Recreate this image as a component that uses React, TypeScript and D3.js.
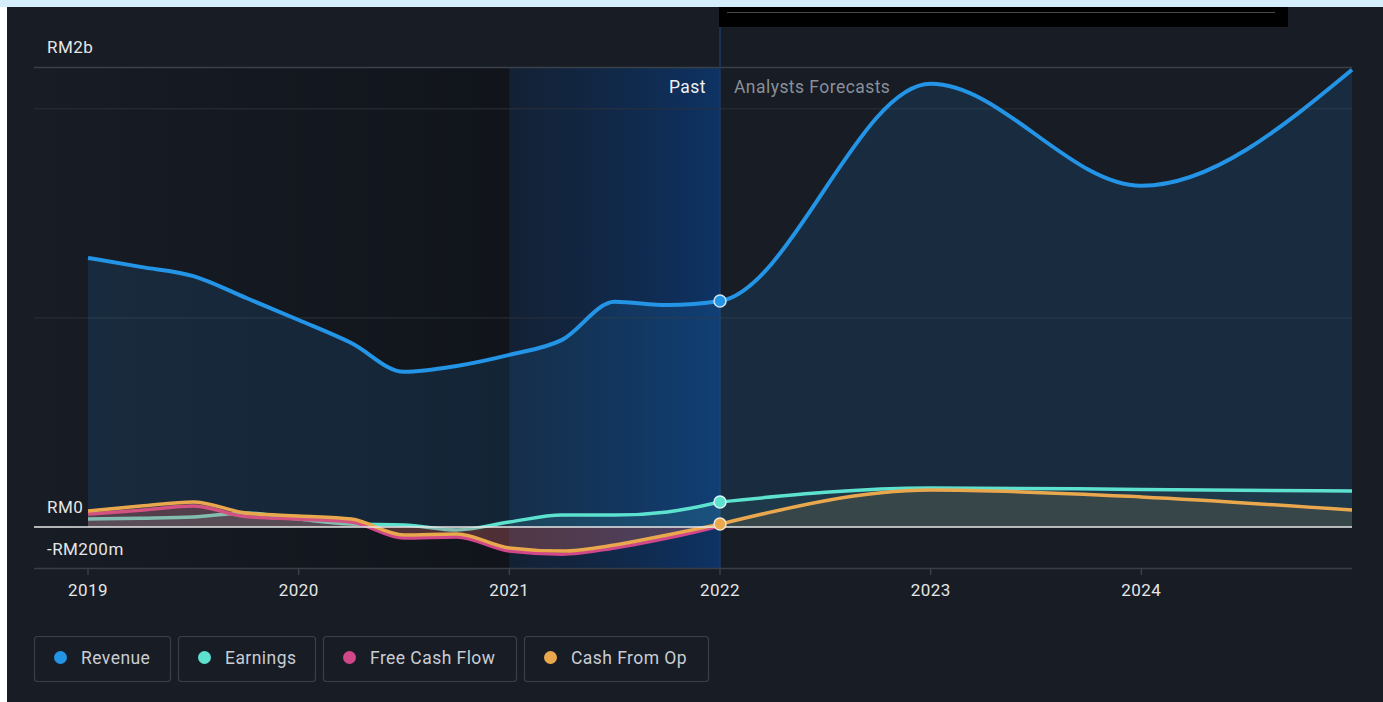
import React from "react";
import * as d3 from "d3";

const years = [2019, 2020, 2021, 2022, 2023, 2024];
const legendItems = ["Revenue", "Earnings", "Free Cash Flow", "Cash From Op"];

const pastT = [2019, 2019.25, 2019.5, 2019.75, 2020, 2020.25, 2020.5, 2020.75, 2021, 2021.25, 2021.5, 2021.75, 2022];
const revenuePast = [1.287, 1.244, 1.2, 1.096, 0.99, 0.88, 0.742, 0.77, 0.823, 0.895, 1.077, 1.062, 1.081];
const earningsPast = [0.038, 0.042, 0.048, 0.067, 0.038, 0.014, 0.01, -0.014, 0.024, 0.057, 0.057, 0.072, 0.12];
const fcfPast = [0.062, 0.08, 0.1, 0.05, 0.038, 0.024, -0.053, -0.048, -0.115, -0.13, -0.1, -0.053, 0.005];
const cfoPast = [0.077, 0.1, 0.12, 0.067, 0.053, 0.038, -0.038, -0.033, -0.1, -0.115, -0.086, -0.038, 0.014];

const foreT = [2022, 2023, 2024, 2025];
const revenueFore = [1.081, 2.12, 1.632, 2.187];
const earningsFore = [0.12, 0.187, 0.18, 0.172];
const cfoFore = [0.014, 0.177, 0.144, 0.081];

const colors = {
  revenue: "#2394e6",
  earnings: "#5de2cf",
  fcf: "#d0478a",
  cfo: "#eaa84e",
};

type P = [number, number];
const zip = (t: number[], v: number[]): P[] => t.map((d, i) => [d, v[i]]);

export default function App() {
  const W = 1383;
  const H = 702;
  const left = 34;
  const right = 1352;
  const x = d3.scaleLinear().domain([2019, 2025]).range([88, 1352]);
  const y = d3.scaleLinear().domain([-0.196, 2.2]).range([568, 67]);
  const y0 = y(0);

  const line = d3
    .line<P>()
    .x((d) => x(d[0]))
    .y((d) => y(d[1]))
    .curve(d3.curveMonotoneX);
  const area = d3
    .area<P>()
    .x((d) => x(d[0]))
    .y0(y0)
    .y1((d) => y(d[1]))
    .curve(d3.curveMonotoneX);

  const rev = zip(pastT, revenuePast).concat(zip(foreT, revenueFore).slice(1));
  const earnP = zip(pastT, earningsPast);
  const earnF = zip(foreT, earningsFore);
  const fcf = zip(pastT, fcfPast);
  const cfoP = zip(pastT, cfoPast);
  const cfoF = zip(foreT, cfoFore);

  const xNow = x(2022);
  const xPastStart = x(2021);

  const legendX = [34, 178, 323, 524];
  const legendW = [136, 137, 193, 184];
  const legendColors = [colors.revenue, colors.earnings, colors.fcf, colors.cfo];

  const font = "Roboto, 'Noto Sans', sans-serif";
  const ls = 0.45;

  return (
    <div style={{ position: "fixed", left: 0, top: 0, width: W, height: H }}>
      <svg width={W} height={H} style={{ display: "block", fontFamily: font }}>
        <defs>
          <linearGradient id="darkPast" x1="0" x2="1" y1="0" y2="0">
            <stop offset="0" stopColor="#000" stopOpacity={0} />
            <stop offset="1" stopColor="#000" stopOpacity={0.28} />
          </linearGradient>
          <linearGradient id="bluePast" x1="0" x2="1" y1="0" y2="0">
            <stop offset="0" stopColor="#0d2a50" stopOpacity={0.35} />
            <stop offset="1" stopColor="#0d3468" stopOpacity={0.95} />
          </linearGradient>
        </defs>
        <rect x={0} y={0} width={W} height={H} fill="#ffffff" />
        <rect x={0} y={0} width={W} height={7} fill="#d4effb" />
        <rect x={7} y={7} width={W - 7} height={H - 7} fill="#171c25" />

        {/* past shading */}
        <rect x={left} y={67} width={xPastStart - left} height={568 - 67} fill="url(#darkPast)" />
        <rect x={xPastStart} y={67} width={xNow - xPastStart} height={568 - 67} fill="url(#bluePast)" />

        {/* black header box */}
        <rect x={719} y={7} width={569} height={20} fill="#000" />
        <line x1={727} x2={1275} y1={12.5} y2={12.5} stroke="#4a4a4a" strokeWidth={1} />

        {/* gridlines */}
        <line x1={left} x2={right} y1={67.5} y2={67.5} stroke="#3b4049" strokeWidth={1.5} />
        {[1, 2].map((v) => (
          <line key={v} x1={left} x2={right} y1={y(v)} y2={y(v)} stroke="#2b313a" strokeWidth={1} />
        ))}
        <line x1={left} x2={right} y1={568.5} y2={568.5} stroke="#393e47" strokeWidth={1.5} />

        {/* now line */}
        <line x1={xNow} x2={xNow} y1={27} y2={568} stroke="#1c3a60" strokeWidth={1.5} />

        {/* revenue */}
        <path d={area(rev) || ""} fill="#2394e6" fillOpacity={0.13} />
        <path d={line(rev) || ""} fill="none" stroke={colors.revenue} strokeWidth={4} />

        {/* earnings */}
        <path d={area(earnP) || ""} fill={colors.earnings} fillOpacity={0.12} />
        <path d={area(earnF) || ""} fill={colors.earnings} fillOpacity={0.08} />
        <path d={line(earnP) || ""} fill="none" stroke={colors.earnings} strokeWidth={3.5} />
        <path d={line(earnF) || ""} fill="none" stroke={colors.earnings} strokeWidth={3.5} />

        {/* fcf */}
        <path d={area(fcf) || ""} fill={colors.fcf} fillOpacity={0.22} />
        <path d={line(fcf) || ""} fill="none" stroke={colors.fcf} strokeWidth={3.5} />

        {/* cfo */}
        <path d={area(cfoP) || ""} fill={colors.cfo} fillOpacity={0.12} />
        <path d={area(cfoF) || ""} fill={colors.cfo} fillOpacity={0.12} />
        <path d={line(cfoP) || ""} fill="none" stroke={colors.cfo} strokeWidth={3.5} />
        <path d={line(cfoF) || ""} fill="none" stroke={colors.cfo} strokeWidth={3.5} />

        {/* zero line */}
        <line x1={left} x2={right} y1={y0} y2={y0} stroke="#e8e8e8" strokeWidth={1.5} />

        {/* dots */}
        <circle cx={xNow} cy={y(revenuePast[12])} r={6} fill={colors.revenue} stroke="#cfe3f5" strokeWidth={1.5} />
        <circle cx={xNow} cy={y(earningsPast[12])} r={6} fill={colors.earnings} stroke="#d8f5f0" strokeWidth={1.5} />
        <circle cx={xNow} cy={y(cfoPast[12])} r={6} fill={colors.cfo} stroke="#f3e3cc" strokeWidth={1.5} />

        {/* y labels */}
        <text x={47} y={53} fill="#e6e6e6" fontSize={17} letterSpacing={ls}>RM2b</text>
        <text x={47} y={513} fill="#e6e6e6" fontSize={17} letterSpacing={ls}>RM0</text>
        <text x={47} y={555} fill="#e6e6e6" fontSize={17} letterSpacing={ls}>-RM200m</text>

        {/* past / forecast labels */}
        <text x={706} y={93} fill="#f0f0f0" fontSize={17.5} letterSpacing={ls} textAnchor="end">Past</text>
        <text x={734} y={93} fill="#8a9099" fontSize={17.5} letterSpacing={ls}>Analysts Forecasts</text>

        {/* x axis */}
        {years.map((yr) => (
          <g key={yr}>
            <line x1={x(yr)} x2={x(yr)} y1={568} y2={575} stroke="#393e47" strokeWidth={1.5} />
            <text x={x(yr)} y={596} fill="#e6e6e6" fontSize={17} letterSpacing={ls} textAnchor="middle">
              {yr}
            </text>
          </g>
        ))}

        {/* legend */}
        {legendItems.map((name, i) => (
          <g key={name}>
            <rect
              x={legendX[i] + 0.5}
              y={636.5}
              width={legendW[i]}
              height={45}
              rx={3}
              fill="none"
              stroke="#3a3f48"
              strokeWidth={1.2}
            />
            <circle cx={legendX[i] + 26.5} cy={657.5} r={6.5} fill={legendColors[i]} />
            <text x={legendX[i] + 47} y={663.5} fill="#c9cdd3" fontSize={17.5} letterSpacing={ls}>
              {name}
            </text>
          </g>
        ))}
      </svg>
    </div>
  );
}
